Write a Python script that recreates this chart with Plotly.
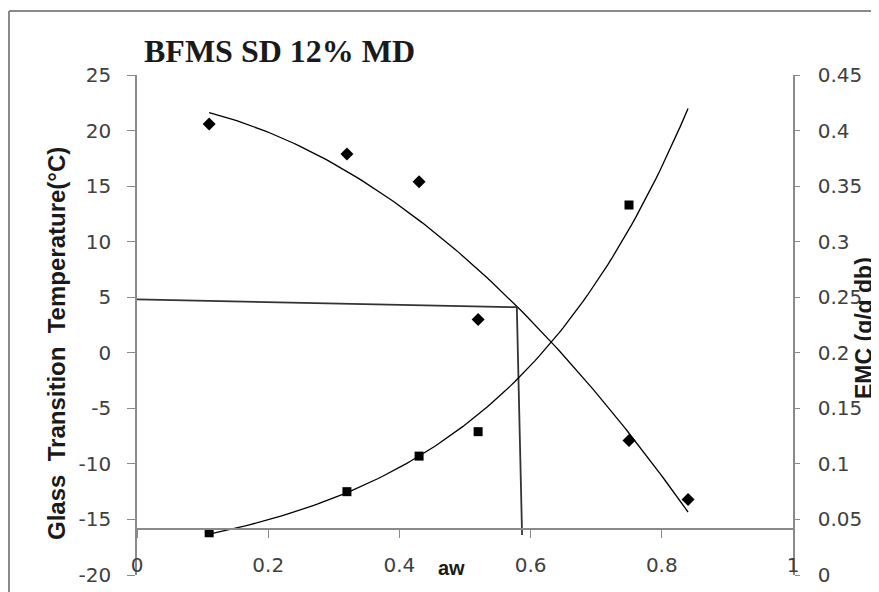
import numpy as np
import plotly.graph_objects as go

# ---- data ----
aw_tg = [0.11, 0.32, 0.43, 0.52, 0.75, 0.84]
tg_values = [20.6, 17.9, 15.4, 3.0, -7.9, -13.2]

aw_emc = [0.11, 0.32, 0.43, 0.52, 0.75]
emc_values = [0.038, 0.075, 0.107, 0.129, 0.333]

# guide lines drawn on the chart (aw, Tg)
guide_aw = [0.0, 0.579, 0.587]
guide_tg = [4.8, 4.1, -16.4]

x_tick_vals = [0, 0.2, 0.4, 0.6, 0.8, 1]
x_tick_text = ["0", "0.2", "0.4", "0.6", "0.8", "1"]
yl_tick_vals = [-20, -15, -10, -5, 0, 5, 10, 15, 20, 25]
yl_tick_text = ["-20", "-15", "-10", "-5", "0", "5", "10", "15", "20", "25"]
yr_tick_vals = [0, 0.05, 0.1, 0.15, 0.2, 0.25, 0.3, 0.35, 0.4, 0.45]
yr_tick_text = ["0", "0.05", "0.1", "0.15", "0.2", "0.25", "0.3", "0.35", "0.4", "0.45"]

# ---- trendlines (Excel-style fits of the data) ----
x_fit = np.linspace(min(aw_tg), max(aw_tg), 120)
tg_coef = np.polyfit(aw_tg, tg_values, 2)
tg_fit = np.polyval(tg_coef, x_fit)
k, lnA = np.polyfit(aw_emc, np.log(emc_values), 1)
emc_fit = np.exp(lnA + k * x_fit)

# page has an 8px body margin: work in screen pixels, convert to figure
OFF = 8
W, H = 871, 584
L, R, T, B = 137 - OFF, 793 - OFF, 75 - OFF, 575 - OFF
def px_x(p):
    return (p - OFF - L) / (R - L)
def px_y(p):
    return (B - (p - OFF)) / (B - T)

tick_font = dict(family="DejaVu Sans", size=20, color="#404040")
axis_col = "#8a8a8a"

fig = go.Figure()
fig.add_trace(go.Scatter(x=x_fit, y=tg_fit, mode="lines",
                         line=dict(color="black", width=1.3), yaxis="y", showlegend=False))
fig.add_trace(go.Scatter(x=x_fit, y=emc_fit, mode="lines",
                         line=dict(color="black", width=1.3), yaxis="y2", showlegend=False))
fig.add_trace(go.Scatter(x=guide_aw, y=guide_tg, mode="lines",
                         line=dict(color="#333333", width=1.8), yaxis="y", showlegend=False))
fig.add_trace(go.Scatter(x=aw_tg, y=tg_values, mode="markers",
                         marker=dict(symbol="diamond", size=10, color="black"),
                         yaxis="y", showlegend=False))
fig.add_trace(go.Scatter(x=aw_emc, y=emc_values, mode="markers",
                         marker=dict(symbol="square", size=9, color="black"),
                         yaxis="y2", showlegend=False))

border = dict(color="#8a8a8a", width=2)
fig.update_layout(
    width=W, height=H,
    margin=dict(l=L, r=W - R, t=T, b=H - B, autoexpand=False),
    paper_bgcolor="white", plot_bgcolor="white",
    showlegend=False,
    xaxis=dict(range=[0, 1], anchor="free", position=px_y(529), automargin=False,
               tickvals=x_tick_vals, ticktext=x_tick_text,
               showline=True, linecolor=axis_col, linewidth=1.5,
               ticks="outside", ticklen=8, tickcolor=axis_col, tickwidth=1,
               ticklabelstandoff=10, tickfont=tick_font,
               showgrid=False, zeroline=False),
    yaxis=dict(range=[-20, 25], tickvals=yl_tick_vals, ticktext=yl_tick_text,
               automargin=False,
               showline=True, linecolor=axis_col, linewidth=1.5,
               ticks="outside", ticklen=8, tickcolor=axis_col,
               ticklabelstandoff=12, tickfont=tick_font,
               showgrid=False, zeroline=False),
    yaxis2=dict(range=[0, 0.45], overlaying="y", side="right", anchor="x",
                automargin=False,
                tickvals=yr_tick_vals, ticktext=yr_tick_text,
                showline=True, linecolor=axis_col, linewidth=1.5,
                ticks="outside", ticklen=5, tickcolor=axis_col,
                ticklabelstandoff=14, tickfont=tick_font,
                showgrid=False, zeroline=False),
    shapes=[
        dict(type="line", xref="paper", yref="paper",
             x0=px_x(9), x1=px_x(879), y0=px_y(11), y1=px_y(11), line=border, layer="below"),
        dict(type="line", xref="paper", yref="paper",
             x0=px_x(9), x1=px_x(9), y0=px_y(11), y1=px_y(592), line=border, layer="below"),
    ],
    annotations=[
        dict(text="<b>BFMS SD 12% MD</b>", xref="paper", yref="paper",
             x=px_x(142), y=px_y(51), xanchor="left", yanchor="middle",
             showarrow=False, font=dict(family="Liberation Serif", size=32, color="#1a1a1a")),
        dict(text="<b>Glass\u00a0\u00a0Transition\u00a0\u00a0Temperature(°C)</b>", xref="paper", yref="paper",
             x=px_x(56), y=px_y(344), xanchor="center", yanchor="middle", textangle=-90,
             showarrow=False, font=dict(family="Liberation Sans", size=24, color="#1a1a1a")),
        dict(text="<b>EMC (g/g db)</b>", xref="paper", yref="paper",
             x=px_x(864), y=px_y(328), xanchor="center", yanchor="middle", textangle=-90,
             showarrow=False, font=dict(family="Liberation Sans", size=23, color="#1a1a1a")),
        dict(text="<b>aw</b>", xref="paper", yref="paper",
             x=px_x(451), y=px_y(568), xanchor="center", yanchor="middle",
             showarrow=False, font=dict(family="Liberation Sans", size=20, color="#1a1a1a")),
    ],
)

fig.write_html("out.html")
